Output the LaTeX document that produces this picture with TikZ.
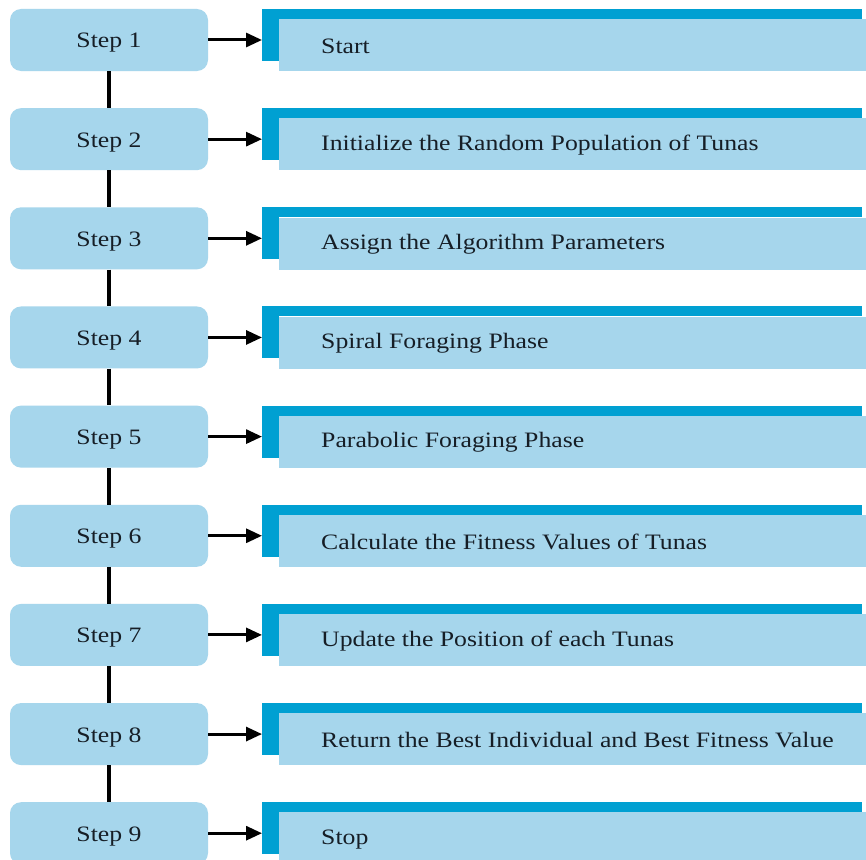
\documentclass[tikz,border=0pt]{standalone}
\usepackage{fontspec}
\setmainfont[FakeStretch=1.17]{Liberation Serif}
\usetikzlibrary{arrows.meta}
\definecolor{lightblue}{RGB}{166,214,236}
\definecolor{darkblue}{RGB}{0,160,210}
\definecolor{txt}{RGB}{22,30,38}
\tikzset{
  stepbox/.style={fill=lightblue,rounded corners=11pt,minimum width=198pt,minimum height=62pt,inner sep=0pt,text=txt,font=\fontsize{22}{26}\selectfont},
  steptext/.style={inner sep=0pt,text=txt,font=\fontsize{22}{26}\selectfont},
  labelbox/.style={fill=lightblue,minimum width=587pt,minimum height=52pt,inner sep=0pt,anchor=north west},
  labeltext/.style={anchor=west,inner sep=0pt,text=txt,font=\fontsize{22}{26}\selectfont},
  link/.style={line width=3.6pt,black},
  pointer/.style={line width=3pt,black,-{Triangle[length=16pt,width=14pt]}}
}
\begin{document}
\begin{tikzpicture}[x=1pt,y=-1pt]
\useasboundingbox (0,0) rectangle (866,859);
\clip (0,0) rectangle (866,859);
\fill[white] (0,0) rectangle (866,859);
\foreach \i/\lab in {1/Start,2/Initialize the Random Population of Tunas,3/Assign the Algorithm Parameters,4/Spiral Foraging Phase,5/Parabolic Foraging Phase,6/Calculate the Fitness Values of Tunas,7/Update the Position of each Tunas,8/Return the Best Individual and Best Fitness Value,9/Stop}{
  \pgfmathsetmacro{\t}{9+(\i-1)*99.15}
  \node[stepbox] (s\i) at (109,\t+31) {};
  \node[steptext] (st\i) at (109,\t+34) {Step \i};
  \fill[darkblue] (262,\t) rectangle (862,\t+10);
  \fill[darkblue] (262,\t) rectangle (279,\t+52);
  \node[labelbox] (b\i) at (279,\t+10) {};
  \node[labeltext] (l\i) at (321,\t+37) {\lab};
  \coordinate (in\i) at (262,\t+31);
  \draw[pointer] (s\i.east) -- (in\i);
}
\foreach \i [evaluate=\i as \j using int(\i+1)] in {1,...,8}{
  \draw[link] (s\i.south) -- (s\j.north);
}
\end{tikzpicture}
\end{document}
